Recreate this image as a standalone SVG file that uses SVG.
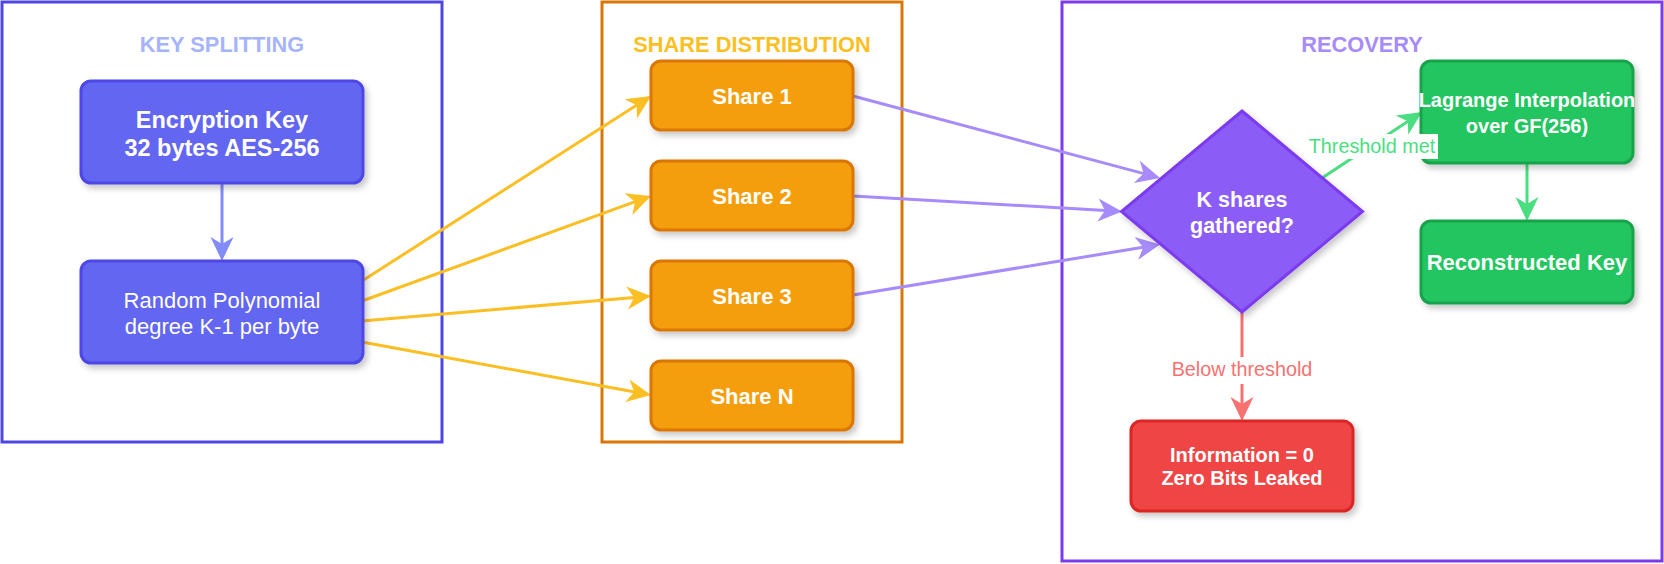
<svg xmlns="http://www.w3.org/2000/svg" width="1664" height="564" viewBox="0 0 1664 564">
<style>
text{font-family:"Liberation Sans",Arial,Helvetica,sans-serif;text-anchor:middle}
.title{font-size:21.8px;font-weight:bold}
.cl{fill:#ffffff;stroke-width:3}
.node{stroke-width:3;filter:url(#sh)}
.lbl{fill:#ffffff;font-weight:bold}
.e{fill:none;stroke-width:3}
.elbl{font-size:19.8px}
</style>
<defs>
<filter id="sh" x="-20%" y="-20%" width="140%" height="150%">
<feDropShadow dx="3" dy="4" stdDeviation="3" flood-color="#000000" flood-opacity="0.22"/>
</filter>
<marker id="mI" viewBox="-17 -12 26 24" markerWidth="26" markerHeight="24" refX="0" refY="0" orient="auto" markerUnits="userSpaceOnUse"><path d="M8,0 L-16,-11.5 L-9,0 L-16,11.5 Z" fill="#818cf8"/></marker>
<marker id="mY" viewBox="-17 -12 26 24" markerWidth="26" markerHeight="24" refX="0" refY="0" orient="auto" markerUnits="userSpaceOnUse"><path d="M8,0 L-16,-11.5 L-9,0 L-16,11.5 Z" fill="#fbbf24"/></marker>
<marker id="mP" viewBox="-17 -12 26 24" markerWidth="26" markerHeight="24" refX="0" refY="0" orient="auto" markerUnits="userSpaceOnUse"><path d="M8,0 L-16,-11.5 L-9,0 L-16,11.5 Z" fill="#a78bfa"/></marker>
<marker id="mG" viewBox="-17 -12 26 24" markerWidth="26" markerHeight="24" refX="0" refY="0" orient="auto" markerUnits="userSpaceOnUse"><path d="M8,0 L-16,-11.5 L-9,0 L-16,11.5 Z" fill="#4ade80"/></marker>
<marker id="mR" viewBox="-17 -12 26 24" markerWidth="26" markerHeight="24" refX="0" refY="0" orient="auto" markerUnits="userSpaceOnUse"><path d="M8,0 L-16,-11.5 L-9,0 L-16,11.5 Z" fill="#f87171"/></marker>
</defs>
<rect width="1664" height="564" fill="#ffffff"/>

<g id="cluster-split">
<rect class="cl" x="2" y="2" width="440" height="440" stroke="#4f46e5"/>
<text class="title" x="222" y="52" fill="#a5b4fc">KEY SPLITTING</text>
</g>
<g id="cluster-dist">
<rect class="cl" x="602" y="2" width="300" height="440" stroke="#d97706"/>
<text class="title" x="752" y="52" fill="#fbbf24">SHARE DISTRIBUTION</text>
</g>
<g id="cluster-recovery">
<rect class="cl" x="1062" y="2" width="600" height="559" stroke="#7c3aed"/>
<text class="title" x="1362" y="52" fill="#a78bfa">RECOVERY</text>
</g>

<g id="connectors">
<line class="e" x1="222" y1="183" x2="222" y2="253" stroke="#818cf8" marker-end="url(#mI)"/>
<line class="e" x1="362" y1="281" x2="644.3" y2="100.3" stroke="#fbbf24" marker-end="url(#mY)"/>
<line class="e" x1="362" y1="301" x2="643.5" y2="198.7" stroke="#fbbf24" marker-end="url(#mY)"/>
<line class="e" x1="362" y1="321" x2="643.0" y2="296.7" stroke="#fbbf24" marker-end="url(#mY)"/>
<line class="e" x1="362" y1="342" x2="643.1" y2="393.6" stroke="#fbbf24" marker-end="url(#mY)"/>
<line class="e" x1="853" y1="96" x2="1152.3" y2="175.9" stroke="#a78bfa" marker-end="url(#mP)"/>
<line class="e" x1="853" y1="196" x2="1114.0" y2="211.0" stroke="#a78bfa" marker-end="url(#mP)"/>
<line class="e" x1="853" y1="295" x2="1152.1" y2="245.8" stroke="#a78bfa" marker-end="url(#mP)"/>
<line class="e" x1="1322" y1="178" x2="1415.3" y2="116.4" stroke="#4ade80" marker-end="url(#mG)"/>
<line class="e" x1="1242" y1="312" x2="1242" y2="413" stroke="#f87171" marker-end="url(#mR)"/>
<line class="e" x1="1527" y1="163" x2="1527" y2="213" stroke="#4ade80" marker-end="url(#mG)"/>
</g>

<g id="node-enckey">
<rect class="node" x="81" y="81" width="282" height="102" rx="10" fill="#6366f1" stroke="#4f46e5"/>
<text class="lbl" x="222" y="128" font-size="23.5">Encryption Key</text>
<text class="lbl" x="222" y="156" font-size="23.5">32 bytes AES-256</text>
</g>
<g id="node-poly">
<rect class="node" x="81" y="261" width="282" height="102" rx="10" fill="#6366f1" stroke="#4f46e5"/>
<text x="222" y="308" font-size="22" fill="#ffffff">Random Polynomial</text>
<text x="222" y="334" font-size="22" fill="#ffffff">degree K-1 per byte</text>
</g>
<g id="node-share1">
<rect class="node" x="651" y="61" width="202" height="69" rx="10" fill="#f59e0b" stroke="#d97706"/>
<text class="lbl" x="752" y="104" font-size="22">Share 1</text>
</g>
<g id="node-share2">
<rect class="node" x="651" y="161" width="202" height="69" rx="10" fill="#f59e0b" stroke="#d97706"/>
<text class="lbl" x="752" y="204" font-size="22">Share 2</text>
</g>
<g id="node-share3">
<rect class="node" x="651" y="261" width="202" height="69" rx="10" fill="#f59e0b" stroke="#d97706"/>
<text class="lbl" x="752" y="304" font-size="22">Share 3</text>
</g>
<g id="node-shareN">
<rect class="node" x="651" y="361" width="202" height="69" rx="10" fill="#f59e0b" stroke="#d97706"/>
<text class="lbl" x="752" y="404" font-size="22">Share N</text>
</g>
<g id="node-decision">
<polygon class="node" points="1242,111 1362.5,211.5 1242,312 1121.5,211.5" fill="#8b5cf6" stroke="#7c3aed"/>
<text class="lbl" x="1242" y="207" font-size="21.5">K shares</text>
<text class="lbl" x="1242" y="233" font-size="21.5">gathered?</text>
</g>
<g id="node-lagrange">
<rect class="node" x="1421" y="61" width="212" height="102" rx="10" fill="#22c55e" stroke="#16a34a"/>
<text class="lbl" x="1527" y="107" font-size="20">Lagrange Interpolation</text>
<text class="lbl" x="1527" y="133" font-size="20">over GF(256)</text>
</g>
<g id="node-recon">
<rect class="node" x="1421" y="221" width="212" height="82" rx="10" fill="#22c55e" stroke="#16a34a"/>
<text class="lbl" x="1527" y="270" font-size="22">Reconstructed Key</text>
</g>
<g id="node-info">
<rect class="node" x="1131" y="421" width="222" height="90" rx="10" fill="#ef4444" stroke="#dc2626"/>
<text class="lbl" x="1242" y="462" font-size="20">Information = 0</text>
<text class="lbl" x="1242" y="485" font-size="20">Zero Bits Leaked</text>
</g>

<g id="edge-labels">
<rect x="1305" y="134" width="133" height="25" fill="#ffffff"/>
<text class="elbl" x="1372" y="153" fill="#4ade80">Threshold met</text>
<rect x="1169" y="357" width="146" height="27" fill="#ffffff"/>
<text class="elbl" x="1242" y="376" fill="#f87171">Below threshold</text>
</g>
</svg>
